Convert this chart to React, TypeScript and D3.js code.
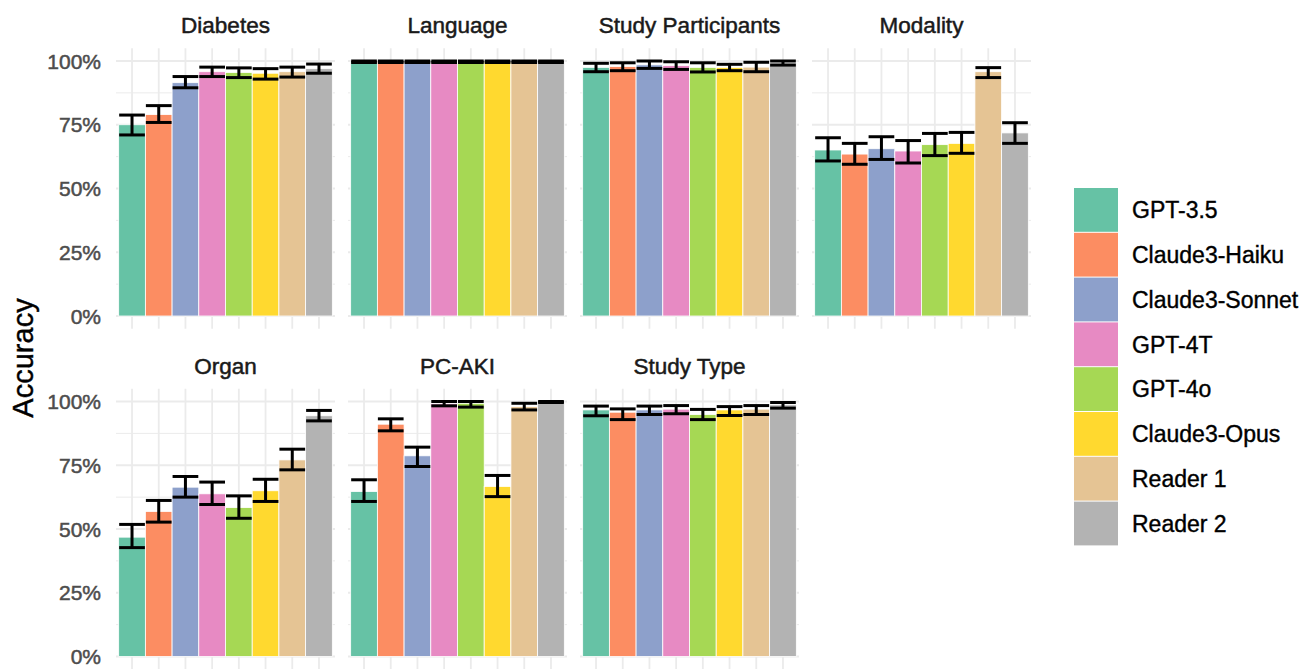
import React from 'react';
import * as d3 from 'd3';

const models = ['GPT-3.5', 'Claude3-Haiku', 'Claude3-Sonnet', 'GPT-4T', 'GPT-4o', 'Claude3-Opus', 'Reader 1', 'Reader 2'];
const palette = ['#66C2A5', '#FC8D62', '#8DA0CB', '#E78AC3', '#A6D854', '#FFD92F', '#E5C494', '#B3B3B3'];

// [accuracy, lower, upper] per model
const diabetes = [
  [0.75, 0.71, 0.788], [0.79, 0.759, 0.825], [0.915, 0.895, 0.939], [0.958, 0.939, 0.976],
  [0.955, 0.935, 0.973], [0.952, 0.929, 0.97], [0.958, 0.937, 0.976], [0.97, 0.952, 0.988],
];
const language = [
  [0.997, 0.994, 1.0], [0.997, 0.994, 1.0], [0.997, 0.994, 1.0], [0.997, 0.994, 1.0],
  [0.997, 0.994, 1.0], [0.997, 0.994, 1.0], [0.997, 0.994, 1.0], [0.997, 0.994, 1.0],
];
const studyParticipants = [
  [0.975, 0.958, 0.991], [0.978, 0.962, 0.993], [0.985, 0.971, 1.0], [0.982, 0.967, 0.997],
  [0.975, 0.957, 0.993], [0.975, 0.962, 0.987], [0.976, 0.958, 0.995], [0.992, 0.984, 1.0],
];
const modality = [
  [0.651, 0.608, 0.699], [0.635, 0.595, 0.677], [0.656, 0.614, 0.703], [0.647, 0.6, 0.688],
  [0.672, 0.629, 0.716], [0.677, 0.638, 0.72], [0.958, 0.935, 0.974], [0.718, 0.677, 0.758],
];
const organ = [
  [0.468, 0.427, 0.518], [0.569, 0.527, 0.612], [0.664, 0.625, 0.706], [0.638, 0.596, 0.684],
  [0.584, 0.542, 0.63], [0.65, 0.608, 0.695], [0.771, 0.732, 0.813], [0.944, 0.924, 0.965],
];
const pcAki = [
  [0.647, 0.608, 0.693], [0.911, 0.885, 0.932], [0.787, 0.745, 0.821], [0.991, 0.983, 1.0],
  [0.993, 0.978, 1.0], [0.667, 0.627, 0.71], [0.98, 0.967, 0.993], [0.998, 0.996, 1.0],
];
const studyType = [
  [0.967, 0.944, 0.982], [0.958, 0.929, 0.971], [0.967, 0.949, 0.982], [0.97, 0.952, 0.984],
  [0.949, 0.929, 0.969], [0.967, 0.945, 0.98], [0.97, 0.949, 0.984], [0.987, 0.974, 0.996],
];

const facets = [
  { title: 'Diabetes', data: diabetes },
  { title: 'Language', data: language },
  { title: 'Study Participants', data: studyParticipants },
  { title: 'Modality', data: modality },
  { title: 'Organ', data: organ },
  { title: 'PC-AKI', data: pcAki },
  { title: 'Study Type', data: studyType },
];

const yTicks = [0, 0.25, 0.5, 0.75, 1];
const yMinor = [0.125, 0.375, 0.625, 0.875];

const font = '"Liberation Sans", Arial, sans-serif';

export default function App() {
  const width = 1302;
  const height = 669;
  const panelLeft = 116;
  const panelW = 219;
  const panelGap = 13;
  const rowZero = [316, 656.5];
  const unit = 255;

  const yFor = (row: number) =>
    d3.scaleLinear().domain([0, 1]).range([rowZero[row], rowZero[row] - unit]);

  const pct = d3.format('.0%');

  return (
    <svg width={width} height={height} style={{ position: 'absolute', left: 0, top: 0, background: '#fff' }}>
      {facets.map((f, i) => {
        const row = Math.floor(i / 4);
        const col = i % 4;
        const x0 = panelLeft + col * (panelW + panelGap);
        const x = d3.scaleBand<string>().domain(models).range([x0, x0 + panelW]).paddingInner(0).paddingOuter(0.1);
        const y = yFor(row);
        const top = y(1.05);
        const bottom = y(-0.05);
        const bw = x.bandwidth();
        return (
          <g key={f.title}>
            {yMinor.map((t) => (
              <line key={'m' + t} x1={x0} x2={x0 + panelW} y1={y(t)} y2={y(t)} stroke="#EBEBEB" strokeWidth={1} />
            ))}
            {yTicks.map((t) => (
              <line key={'M' + t} x1={x0} x2={x0 + panelW} y1={y(t)} y2={y(t)} stroke="#EBEBEB" strokeWidth={1.8} />
            ))}
            {models.map((m) => (
              <line key={'v' + m} x1={x(m)! + bw / 2} x2={x(m)! + bw / 2} y1={top} y2={bottom} stroke="#EBEBEB" strokeWidth={1.8} />
            ))}
            {f.data.map((d, j) => (
              <rect
                key={'b' + j}
                x={x(models[j])!}
                y={y(d[0])}
                width={bw}
                height={y(0) - y(d[0])}
                fill={palette[j]}
                stroke="#fff"
                strokeWidth={0.8}
              />
            ))}
            {f.data.map((d, j) => {
              const cx = x(models[j])! + bw / 2;
              const hw = bw / 2 - 0.5;
              return (
                <g key={'e' + j} stroke="#000" strokeWidth={3}>
                  <line x1={cx} x2={cx} y1={y(d[1])} y2={y(d[2])} />
                  <line x1={cx - hw} x2={cx + hw} y1={y(d[1])} y2={y(d[1])} />
                  <line x1={cx - hw} x2={cx + hw} y1={y(d[2])} y2={y(d[2])} />
                </g>
              );
            })}
            <text
              x={x0 + panelW / 2}
              y={top - 15}
              textAnchor="middle"
              fontFamily={font}
              fontSize={22.5}
              fill="#1A1A1A"
              stroke="#1A1A1A"
              strokeWidth={0.5}
            >
              {f.title}
            </text>
            {col === 0 &&
              yTicks.map((t) => (
                <text
                  key={'t' + t}
                  x={101}
                  y={y(t)}
                  dy="0.36em"
                  textAnchor="end"
                  fontFamily={font}
                  fontSize={21}
                  fill="#4D4D4D"
                  stroke="#4D4D4D"
                  strokeWidth={0.5}
                >
                  {pct(t)}
                </text>
              ))}
          </g>
        );
      })}
      <text
        transform="translate(33,358) rotate(-90)"
        textAnchor="middle"
        fontFamily={font}
        fontSize={29}
        fill="#000"
        stroke="#000"
        strokeWidth={0.4}
      >
        Accuracy
      </text>
      {models.map((m, j) => (
        <g key={'l' + m}>
          <rect x={1074} y={188 + j * 44.8} width={44} height={43.8} fill={palette[j]} />
          <text
            x={1132}
            y={188 + j * 44.8 + 22}
            dy="0.36em"
            fontFamily={font}
            fontSize={23}
            fill="#000"
            stroke="#000"
            strokeWidth={0.4}
          >
            {m}
          </text>
        </g>
      ))}
    </svg>
  );
}
